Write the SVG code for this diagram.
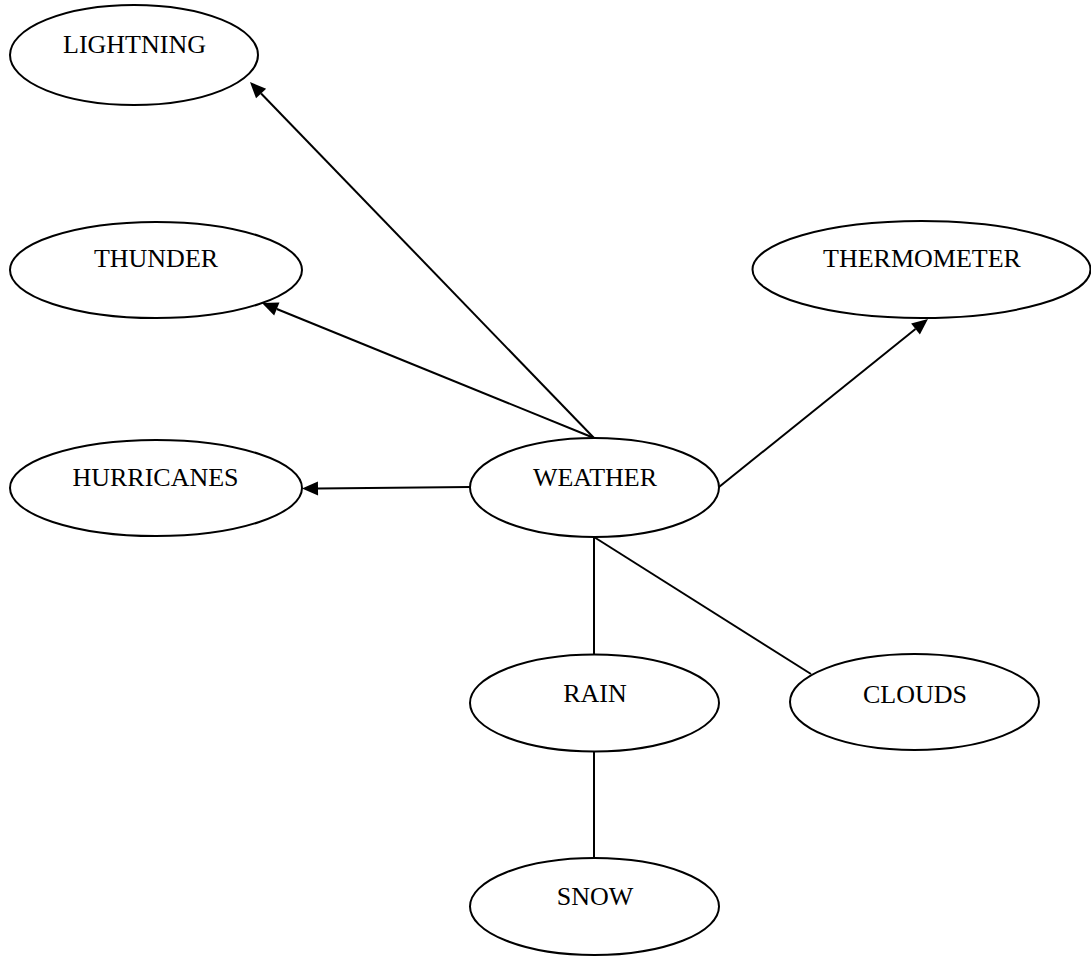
<svg xmlns="http://www.w3.org/2000/svg" width="1091" height="956" viewBox="0 0 1091 956">
  <style>
    .node ellipse { fill: #ffffff; stroke: #000000; stroke-width: 2; }
    .node text { font-family: "Liberation Serif", "Times New Roman", serif; font-size: 26px; fill: #000000; text-anchor: middle; }
    .edges line { stroke: #000000; stroke-width: 2; fill: none; }
    .edges line.arrow { marker-end: url(#head); }
  </style>
  <defs>
    <marker id="head" markerUnits="userSpaceOnUse" markerWidth="18" markerHeight="16" refX="0" refY="7" orient="auto" overflow="visible">
      <path d="M0,0 L16,7 L0,14 Z" fill="#000000"/>
    </marker>
  </defs>
  <rect width="1091" height="956" fill="#ffffff"/>

  <!-- connectors -->
  <g id="edges" class="edges">
    <line class="arrow" x1="594" y1="438" x2="261.1" y2="93.5"/>
    <line class="arrow" x1="594" y1="438" x2="276.8" y2="309"/>
    <line class="arrow" x1="470" y1="487" x2="318" y2="488.4"/>
    <line class="arrow" x1="719" y1="487" x2="915.5" y2="329"/>
    <line x1="594" y1="537" x2="594" y2="655"/>
    <line x1="594" y1="537" x2="811" y2="674"/>
    <line x1="594" y1="751" x2="594" y2="858"/>
  </g>

  <g id="lightning" class="node">
    <ellipse cx="134" cy="55" rx="124" ry="50"/>
    <text x="134.5" y="53">LIGHTNING</text>
  </g>
  <g id="thunder" class="node">
    <ellipse cx="156" cy="270" rx="146" ry="48"/>
    <text x="156" y="267">THUNDER</text>
  </g>
  <g id="hurricanes" class="node">
    <ellipse cx="156" cy="488" rx="146" ry="48"/>
    <text x="155.5" y="486">HURRICANES</text>
  </g>
  <g id="weather" class="node">
    <ellipse cx="594.5" cy="487.5" rx="124.5" ry="49.5"/>
    <text x="595" y="486">WEATHER</text>
  </g>
  <g id="thermometer" class="node">
    <ellipse cx="921.5" cy="269.5" rx="169" ry="48.5"/>
    <text x="922" y="267">THERMOMETER</text>
  </g>
  <g id="rain" class="node">
    <ellipse cx="594.5" cy="703" rx="124.5" ry="48.5"/>
    <text x="595" y="702">RAIN</text>
  </g>
  <g id="clouds" class="node">
    <ellipse cx="914.5" cy="702" rx="124.5" ry="48"/>
    <text x="915" y="703">CLOUDS</text>
  </g>
  <g id="snow" class="node">
    <ellipse cx="594.5" cy="906.5" rx="124.5" ry="48.5"/>
    <text x="595" y="905">SNOW</text>
  </g>
</svg>
